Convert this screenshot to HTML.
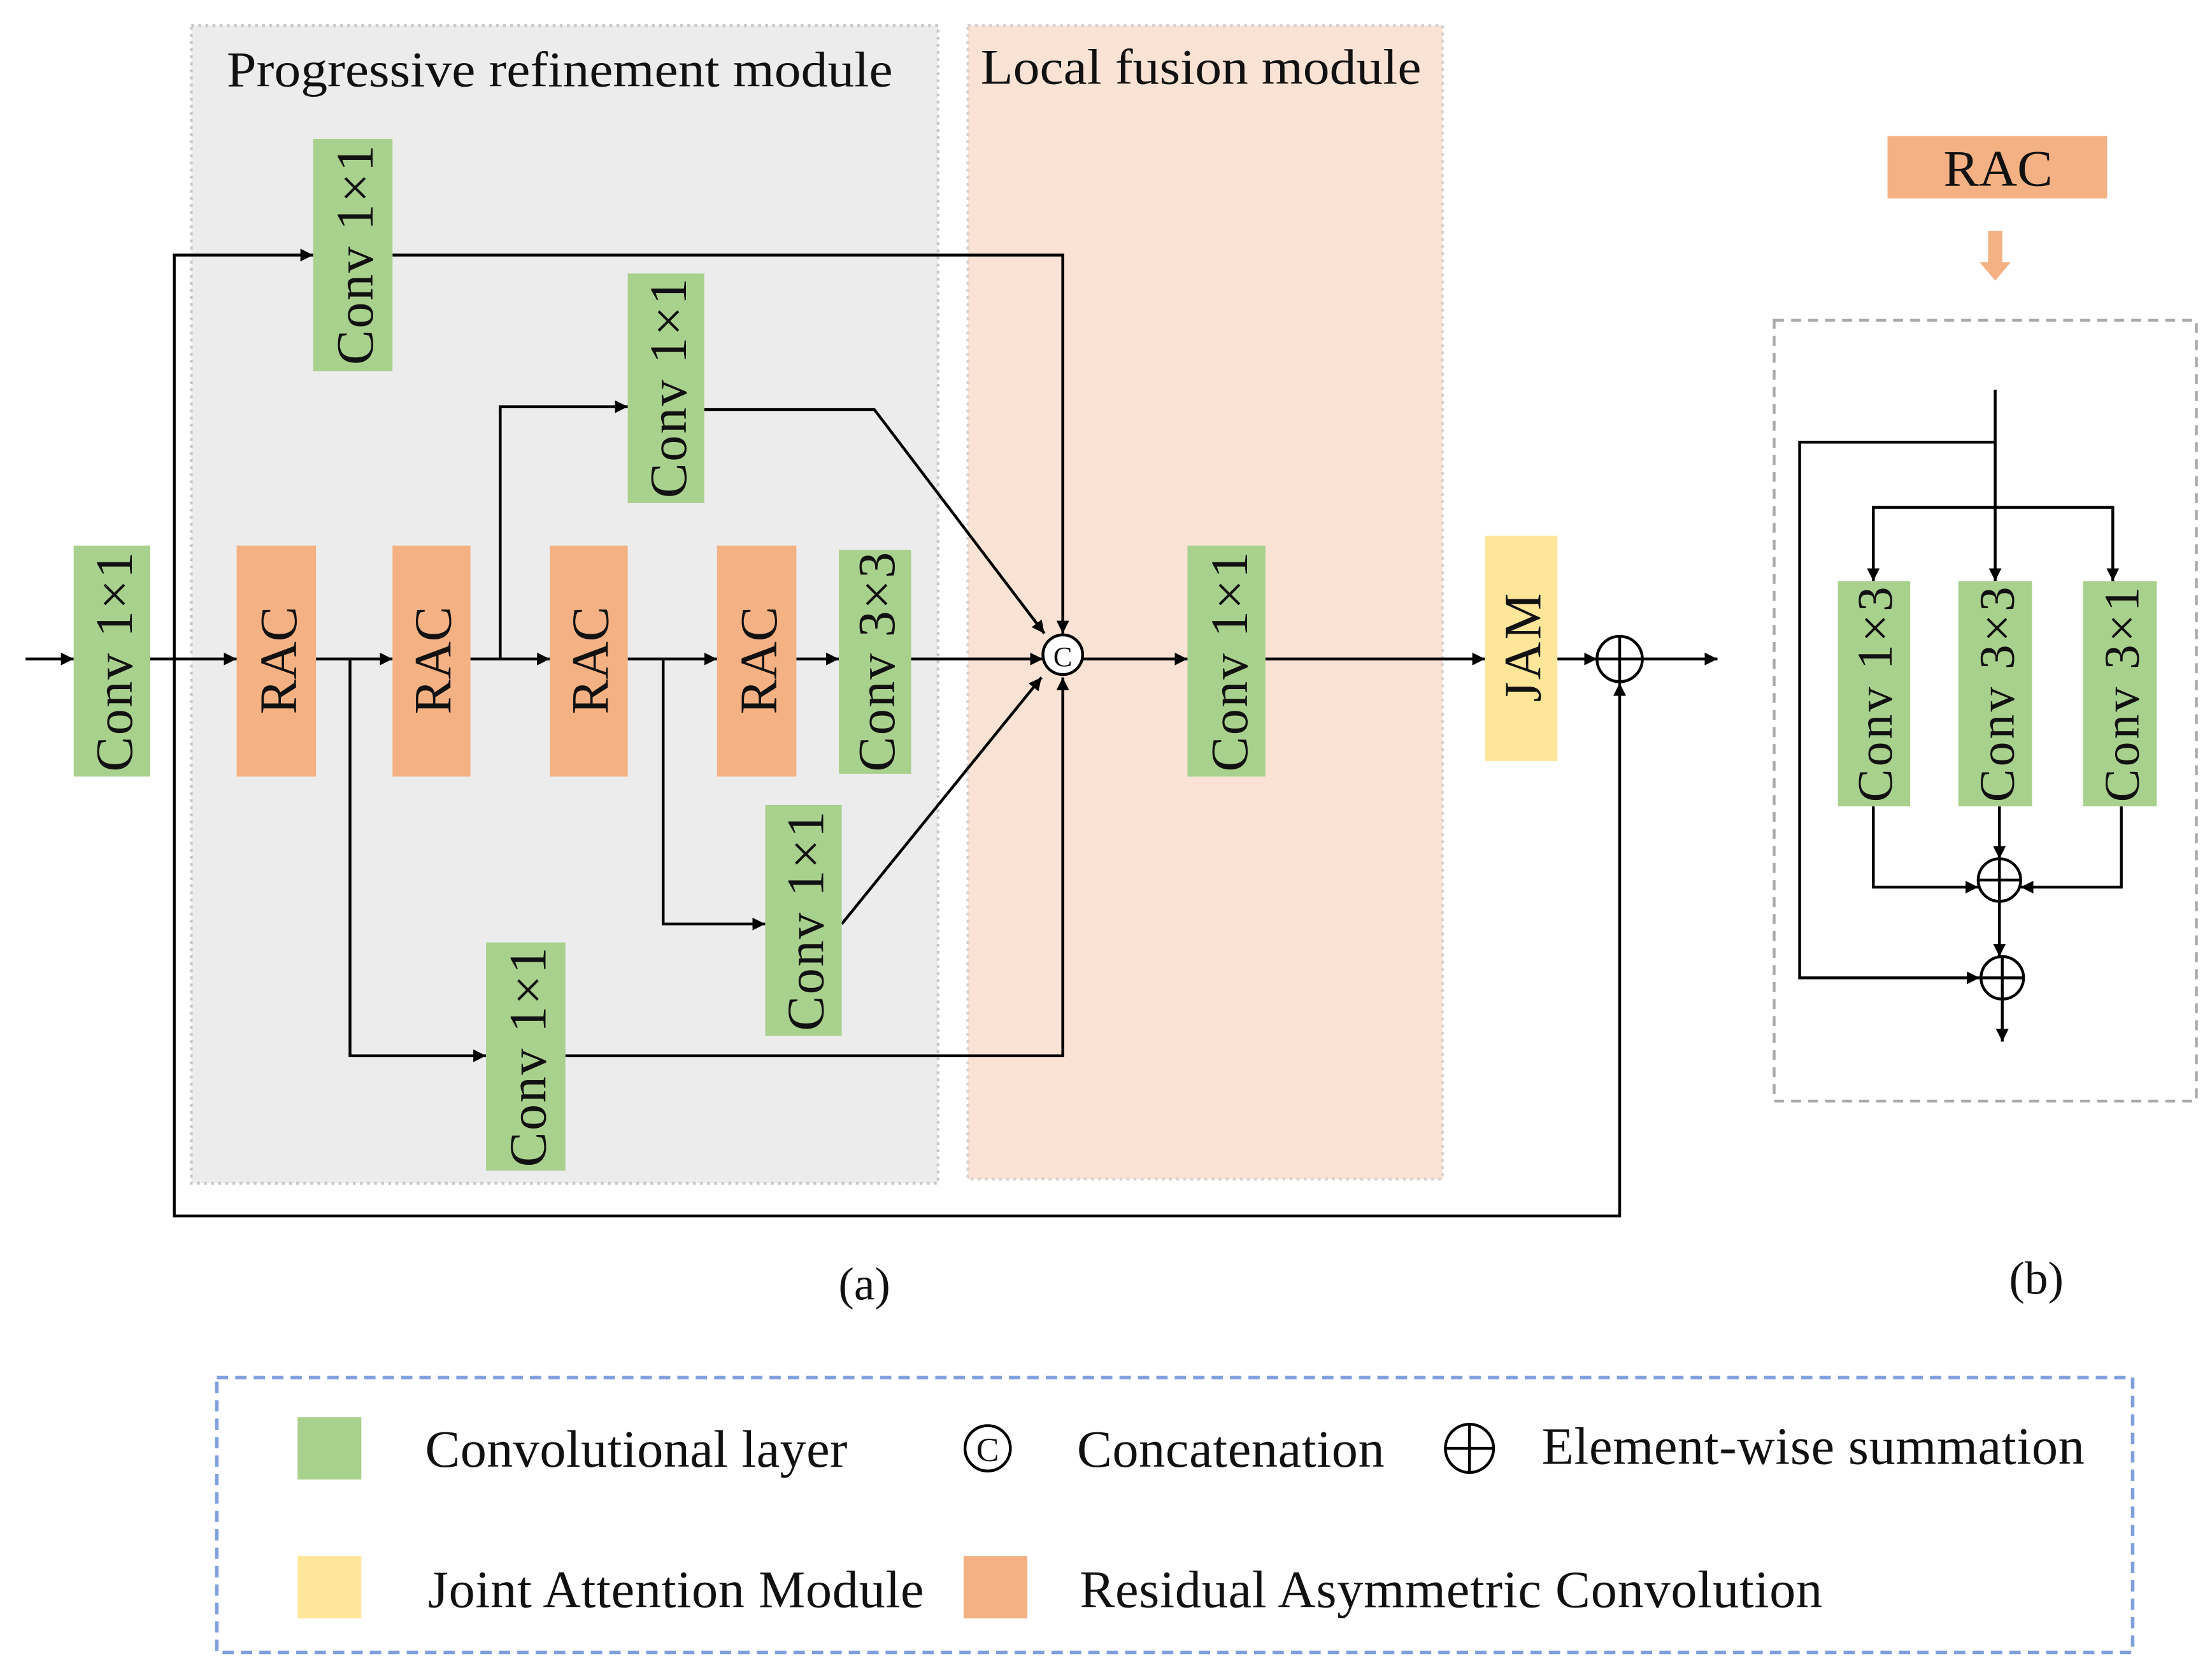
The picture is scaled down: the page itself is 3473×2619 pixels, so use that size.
<!DOCTYPE html>
<html><head><meta charset="utf-8"><style>
html,body{margin:0;padding:0;background:#fff;}
svg{display:block;}
text{font-family:"Liberation Serif",serif;fill:#111;}
</style></head><body>
<svg width="3473" height="2619" viewBox="0 0 1561 1177" preserveAspectRatio="none" xmlns="http://www.w3.org/2000/svg">
<defs>
<marker id="a" viewBox="0 0 10 10" refX="10" refY="5" markerWidth="9" markerHeight="9" markerUnits="userSpaceOnUse" orient="auto"><path d="M0,0L10,5L0,10z" fill="#000"/></marker>
</defs>
<rect width="1561" height="1177" fill="#fff"/>
<rect x="135" y="18" width="527" height="817" fill="#ececec" stroke="#c8c8c8" stroke-width="2" stroke-dasharray="2,3"/>
<rect x="683" y="18" width="335" height="814" fill="#fae3d5" stroke="#d8d0cc" stroke-width="2" stroke-dasharray="2,3"/>
<text x="160" y="61" font-size="35" textLength="470" lengthAdjust="spacingAndGlyphs">Progressive refinement module</text>
<text x="692" y="59" font-size="35" textLength="311" lengthAdjust="spacingAndGlyphs">Local fusion module</text>

<g fill="none" stroke="#000" stroke-width="2">
<line x1="18" y1="465" x2="52" y2="465" marker-end="url(#a)"/>
<line x1="106" y1="465" x2="167" y2="465" marker-end="url(#a)"/>
<line x1="223" y1="465" x2="277" y2="465" marker-end="url(#a)"/>
<line x1="332" y1="465" x2="388" y2="465" marker-end="url(#a)"/>
<line x1="443" y1="465" x2="506" y2="465" marker-end="url(#a)"/>
<line x1="562" y1="465" x2="592" y2="465" marker-end="url(#a)"/>
<line x1="643" y1="465" x2="736" y2="465" marker-end="url(#a)"/>
<line x1="764" y1="465" x2="838" y2="465" marker-end="url(#a)"/>
<line x1="893" y1="465" x2="1048" y2="465" marker-end="url(#a)"/>
<line x1="1099" y1="465" x2="1127" y2="465" marker-end="url(#a)"/>
<line x1="1159" y1="465" x2="1212" y2="465" marker-end="url(#a)"/>
<polyline points="123,465 123,180 221,180" marker-end="url(#a)"/>
<polyline points="277,180 750,180 750,447" marker-end="url(#a)"/>
<polyline points="353,465 353,287 443,287" marker-end="url(#a)"/>
<polyline points="497,289 617,289 737,447" marker-end="url(#a)"/>
<polyline points="468,465 468,652 540,652" marker-end="url(#a)"/>
<polyline points="594,652 735,478" marker-end="url(#a)"/>
<polyline points="247,465 247,745 343,745" marker-end="url(#a)"/>
<polyline points="399,745 750,745 750,478" marker-end="url(#a)"/>
<polyline points="123,465 123,858 1143,858 1143,482" marker-end="url(#a)"/>
</g>

<g>
<rect x="52" y="385" width="54" height="163" fill="#a9d18e"/>
<rect x="167" y="385" width="56" height="163" fill="#f4b183"/>
<rect x="277" y="385" width="55" height="163" fill="#f4b183"/>
<rect x="388" y="385" width="55" height="163" fill="#f4b183"/>
<rect x="506" y="385" width="56" height="163" fill="#f4b183"/>
<rect x="592" y="388" width="51" height="158" fill="#a9d18e"/>
<rect x="221" y="98" width="56" height="164" fill="#a9d18e"/>
<rect x="443" y="193" width="54" height="162" fill="#a9d18e"/>
<rect x="540" y="568" width="54" height="163" fill="#a9d18e"/>
<rect x="343" y="665" width="56" height="161" fill="#a9d18e"/>
<rect x="838" y="385" width="55" height="163" fill="#a9d18e"/>
<rect x="1048" y="378" width="51" height="159" fill="#ffe699"/>
</g>
<g font-size="37" text-anchor="middle" lengthAdjust="spacingAndGlyphs">
<text transform="translate(93,467) rotate(-90)" textLength="155">Conv 1×1</text>
<text transform="translate(209,466) rotate(-90)" textLength="76">RAC</text>
<text transform="translate(318,466) rotate(-90)" textLength="76">RAC</text>
<text transform="translate(429,466) rotate(-90)" textLength="76">RAC</text>
<text transform="translate(548,466) rotate(-90)" textLength="76">RAC</text>
<text transform="translate(631,467) rotate(-90)" textLength="155">Conv 3×3</text>
<text transform="translate(263,180) rotate(-90)" textLength="155">Conv 1×1</text>
<text transform="translate(484,274) rotate(-90)" textLength="155">Conv 1×1</text>
<text transform="translate(581,650) rotate(-90)" textLength="155">Conv 1×1</text>
<text transform="translate(385,746) rotate(-90)" textLength="155">Conv 1×1</text>
<text transform="translate(880,467) rotate(-90)" textLength="155">Conv 1×1</text>
<text transform="translate(1087,457) rotate(-90)" textLength="77">JAM</text>
</g>
<circle cx="750" cy="462" r="14" fill="#fff" stroke="#000" stroke-width="2"/>
<text x="750" y="470" font-size="20" text-anchor="middle">C</text>
<circle cx="1143" cy="465" r="16" fill="none" stroke="#000" stroke-width="2"/>
<line x1="1127" y1="465" x2="1159" y2="465" stroke="#000" stroke-width="2"/>
<line x1="1143" y1="449" x2="1143" y2="481" stroke="#000" stroke-width="2"/>

<text x="610" y="917" font-size="33" text-anchor="middle">(a)</text>
<text x="1437" y="913" font-size="33" text-anchor="middle">(b)</text>

<rect x="1332" y="96" width="155" height="44" fill="#f4b183"/>
<text x="1410" y="131" font-size="36" text-anchor="middle" textLength="77" lengthAdjust="spacingAndGlyphs">RAC</text>
<path d="M1403,163 L1413,163 L1413,185 L1419,185 L1408,198 L1397,185 L1403,185 Z" fill="#f4b183"/>
<rect x="1252" y="226" width="298" height="551" fill="none" stroke="#aaa" stroke-width="2" stroke-dasharray="7,5"/>
<g fill="none" stroke="#000" stroke-width="2">
<line x1="1408" y1="275" x2="1408" y2="410" marker-end="url(#a)"/>
<polyline points="1408,312 1270,312 1270,690 1397,690" marker-end="url(#a)"/>
<polyline points="1322,410 1322,358 1491,358 1491,410"/>
<line x1="1322" y1="358" x2="1322" y2="410" marker-end="url(#a)"/>
<line x1="1491" y1="358" x2="1491" y2="410" marker-end="url(#a)"/>
<polyline points="1322,569 1322,626 1396,626" marker-end="url(#a)"/>
<polyline points="1497,569 1497,626 1426,626" marker-end="url(#a)"/>
<line x1="1411" y1="569" x2="1411" y2="606" marker-end="url(#a)"/>
<line x1="1411" y1="636" x2="1411" y2="675" marker-end="url(#a)"/>
<line x1="1413" y1="705" x2="1413" y2="735" marker-end="url(#a)"/>
<circle cx="1411" cy="621" r="15"/><line x1="1396" y1="621" x2="1426" y2="621"/><line x1="1411" y1="606" x2="1411" y2="636"/>
<circle cx="1413" cy="690" r="15"/><line x1="1398" y1="690" x2="1428" y2="690"/><line x1="1413" y1="675" x2="1413" y2="705"/>
</g>
<rect x="1297" y="410" width="51" height="159" fill="#a9d18e"/>
<rect x="1382" y="410" width="52" height="159" fill="#a9d18e"/>
<rect x="1470" y="410" width="52" height="159" fill="#a9d18e"/>
<g font-size="35" text-anchor="middle" lengthAdjust="spacingAndGlyphs">
<text transform="translate(1335,490) rotate(-90)" textLength="152">Conv 1×3</text>
<text transform="translate(1421,490) rotate(-90)" textLength="152">Conv 3×3</text>
<text transform="translate(1509,490) rotate(-90)" textLength="152">Conv 3×1</text>
</g>

<rect x="153" y="972" width="1352" height="194" fill="none" stroke="#7f9fde" stroke-width="2.5" stroke-dasharray="8,5"/>
<g font-size="37" lengthAdjust="spacingAndGlyphs">
<rect x="210" y="1000" width="45" height="44" fill="#a9d18e"/>
<text x="300" y="1035" textLength="298">Convolutional layer</text>
<circle cx="697" cy="1022" r="16" fill="none" stroke="#000" stroke-width="2"/>
<text x="697" y="1031" font-size="24" text-anchor="middle">C</text>
<text x="760" y="1035" textLength="217">Concatenation</text>
<circle cx="1037" cy="1022" r="17" fill="none" stroke="#000" stroke-width="2"/>
<line x1="1020" y1="1022" x2="1054" y2="1022" stroke="#000" stroke-width="2"/>
<line x1="1037" y1="1005" x2="1037" y2="1039" stroke="#000" stroke-width="2"/>
<text x="1088" y="1033" textLength="383">Element-wise summation</text>
<rect x="210" y="1098" width="45" height="44" fill="#ffe699"/>
<text x="302" y="1134" textLength="350">Joint Attention Module</text>
<rect x="680" y="1098" width="45" height="44" fill="#f4b183"/>
<text x="762" y="1134" textLength="524">Residual Asymmetric Convolution</text>
</g>
</svg>
</body></html>
